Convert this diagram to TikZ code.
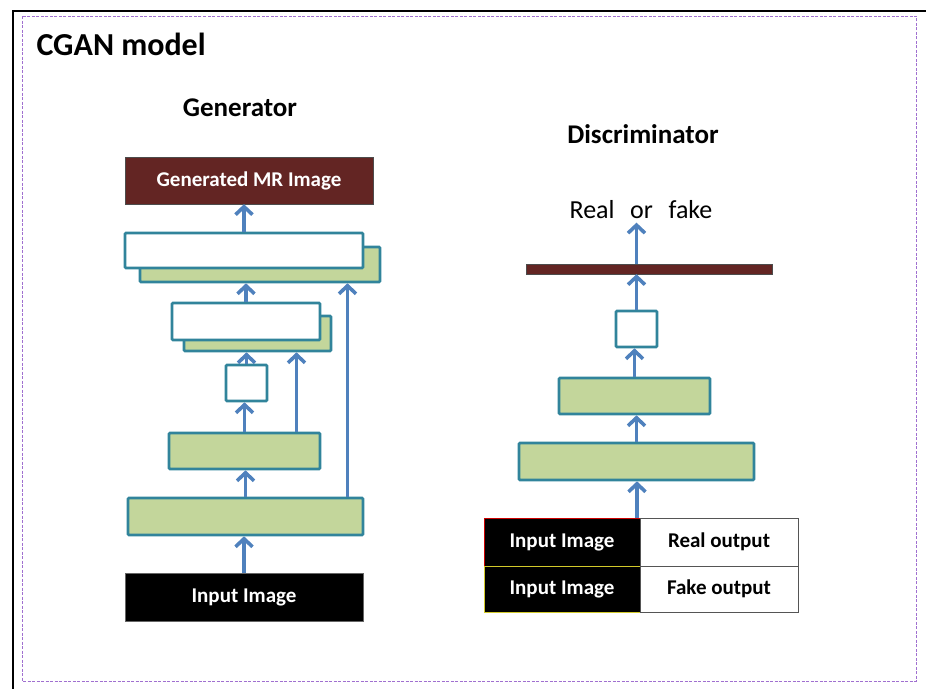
\documentclass[tikz,border=0pt]{standalone}
\usepackage{fontspec}
\setmainfont{Carlito}
\usepackage{xcolor}
\usetikzlibrary{calc,arrows.meta}
\definecolor{teal}{HTML}{31849B}
\definecolor{leaf}{HTML}{C3D69B}
\definecolor{wine}{HTML}{632523}
\definecolor{flow}{HTML}{4F81BD}
\definecolor{frame}{HTML}{A070D0}
\definecolor{cellgray}{HTML}{555555}
\tikzset{
  layer/.style={draw=teal, line width=2.6pt, rounded corners=1pt, inner sep=0pt},
  full/.style={layer, fill=leaf},
  empty/.style={layer, fill=white},
  outbox/.style={draw=black!70, fill=wine, inner sep=0pt, text=white, font=\bfseries\fontsize{21}{25}\selectfont},
  inbox/.style={draw=black!60, fill=black, inner sep=0pt, text=white, font=\bfseries\fontsize{21}{25}\selectfont},
  cell/.style={draw=cellgray, line width=1pt, fill=white, inner sep=0pt, font=\bfseries\fontsize{21}{25}\selectfont},
  flowarrow/.style={draw=flow, line width=3.8pt, -{Straight Barb[length=8pt,width=17pt,line width=3.6pt]}},
  heading/.style={font=\bfseries\fontsize{27}{32}\selectfont},
}

\begin{document}
\begin{tikzpicture}[x=1pt, y=-1pt]
  \useasboundingbox (0,0) rectangle (926,688);
  % frames
  \draw[black, line width=1.4pt] (13,11) rectangle (940,700);
  \draw[frame, dashed, line width=1pt, dash pattern=on 3pt off 1.5pt] (22,16) rectangle (916,681);
  \node[anchor=west, font=\bfseries\fontsize{32}{38}\selectfont] (title) at (33,44) {CGAN model};

  % generator
  \node[heading] (gtitle) at (240,108) {Generator};
  \node[outbox, minimum width=248pt, minimum height=47pt] (gout) at (249,180.5) {Generated MR Image};
  \node[full, minimum width=240pt, minimum height=35pt] (s1back) at (260,264.5) {};
  \node[empty, minimum width=238pt, minimum height=35pt] (s1) at (244,250.5) {};
  \node[full, minimum width=147pt, minimum height=35pt] (s2back) at (257.5,333.5) {};
  \node[empty, minimum width=148pt, minimum height=37pt] (s2) at (246,321.5) {};
  \node[empty, minimum width=41pt, minimum height=36pt] (gsmall) at (246.5,383) {};
  \node[full, minimum width=151pt, minimum height=36pt] (gmid) at (244.5,451) {};
  \node[full, minimum width=235pt, minimum height=37pt] (gbig) at (245.5,516.5) {};
  \node[inbox, minimum width=238pt, minimum height=48pt] (gin) at (244,597) {Input Image};

  \draw[flowarrow] (gin.north) -- (gin.north |- gbig.south);
  \draw[flowarrow] (gbig.north) -- (gbig.north |- gmid.south);
  \draw[flowarrow] (gmid.north) -- (gmid.north |- gsmall.south);
  \draw[flowarrow] (gsmall.north) -- (gsmall.north |- s2back.south);
  \draw[flowarrow] ([xshift=52pt]gmid.north) -- ([xshift=52pt]gmid.north |- s2back.south);
  \draw[flowarrow] (s2.north) -- (s2.north |- s1back.south);
  \draw[flowarrow] ([xshift=102pt]gbig.north) -- ([xshift=102pt]gbig.north |- s1back.south);
  \draw[flowarrow] (s1.north) -- (s1.north |- gout.south);

  % discriminator
  \node[heading] (dtitle) at (643,134) {Discriminator};
  \node[font=\fontsize{26}{30}\selectfont] (verdict) at (641,210) {Real\hspace{0.6em}or\hspace{0.6em}fake};
  \node[draw=black!70, fill=wine, inner sep=0pt, minimum width=246pt, minimum height=10pt] (dbar) at (649,269) {};
  \node[empty, minimum width=41pt, minimum height=36pt] (dsmall) at (636.5,329) {};
  \node[full, minimum width=151pt, minimum height=36pt] (dmid) at (634.5,396) {};
  \node[full, minimum width=235pt, minimum height=37pt] (dbig) at (636.5,461.5) {};
  \node[inbox, draw=red!80!black, line width=1pt, minimum width=156pt, minimum height=48pt] (realin) at (562,542) {Input Image};
  \node[inbox, draw=yellow!80!black, line width=1pt, minimum width=156pt, minimum height=46pt] (fakein) at (562,589) {Input Image};
  \node[cell, minimum width=158pt, minimum height=48pt] (realout) at (719,542) {Real output};
  \node[cell, minimum width=158pt, minimum height=46pt] (fakeout) at (719,589) {Fake output};

  \coordinate (dentry) at (637,518);
  \draw[flowarrow] (dentry) -- (dentry |- dbig.south);
  \draw[flowarrow] (dbig.north) -- (dbig.north |- dmid.south);
  \draw[flowarrow] (dmid.north) -- (dmid.north |- dsmall.south);
  \draw[flowarrow] (dsmall.north) -- (dsmall.north |- dbar.south);
  \draw[flowarrow] (dsmall.north |- dbar.north) -- (dsmall.north |- verdict.south);
\end{tikzpicture}
\end{document}
